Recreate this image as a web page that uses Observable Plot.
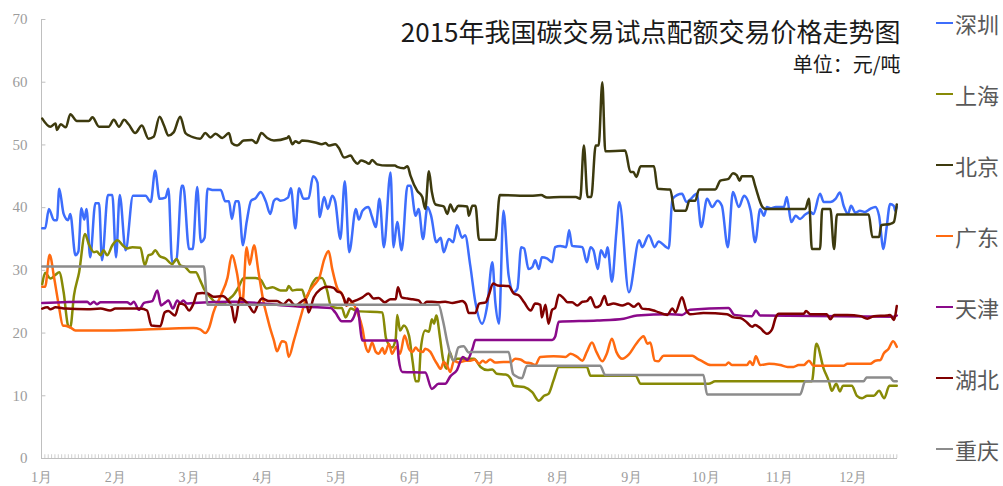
<!DOCTYPE html>
<html>
<head>
<meta charset="utf-8">
<script src="https://cdn.jsdelivr.net/npm/d3@7"></script>
<script src="https://cdn.jsdelivr.net/npm/@observablehq/plot@0.6"></script>
<style>
  html, body { margin: 0; padding: 0; background: #fff; }
  #wrap { position: relative; width: 1003px; height: 486px; overflow: hidden; }
  #legend { position: absolute; left: 0; top: 0; }
  .item { position: absolute; left: 936px; height: 30px; display: flex; align-items: center; white-space: nowrap; }
  .key { display: inline-block; width: 17px; height: 2.5px; }
  .lab { margin-left: 2px; font-family: "Noto Sans CJK SC", sans-serif; font-size: 22px; color: #595959; }
</style>
</head>
<body>
<div id="wrap"><div id="legend"></div></div>
<script>
// categories
const cities = ["深圳", "上海", "北京", "广东", "天津", "湖北", "重庆"];
const colors = ["#3d6dfc", "#878a06", "#3d3a0e", "#ff6a10", "#8a0a8a", "#800000", "#8c8c8c"];
const months = ["1月","2月","3月","4月","5月","6月","7月","8月","9月","10月","11月","12月"];
const yTicks = [0, 10, 20, 30, 40, 50, 60, 70];
const title = "2015年我国碳交易试点配额交易价格走势图";
const subtitle = "单位：元/吨";

// series: [position in months from 1月, price]
const shenzhen = [[0.01,36.7],[0.05,36.7],[0.10,39.8],[0.17,38.0],[0.21,38.0],[0.24,43.0],[0.30,39.0],[0.36,38.0],[0.39,39.0],[0.46,32.4],[0.50,33.0],[0.54,39.9],[0.58,38.1],[0.61,39.8],[0.66,32.1],[0.73,40.7],[0.78,40.7],[0.82,31.6],[0.90,42.0],[0.96,42.0],[1.01,32.1],[1.06,42.0],[1.14,33.2],[1.24,41.9],[1.41,41.9],[1.48,40.9],[1.54,45.9],[1.60,41.4],[1.68,41.6],[1.72,43.0],[1.77,31.3],[1.83,31.8],[1.90,43.5],[1.92,43.5],[2.00,33.4],[2.05,33.4],[2.11,43.3],[2.16,34.5],[2.21,35.2],[2.25,43.0],[2.33,42.8],[2.43,42.8],[2.49,41.0],[2.54,41.0],[2.58,38.2],[2.63,41.0],[2.67,41.0],[2.73,34.0],[2.78,37.7],[2.84,41.1],[2.90,41.5],[2.97,42.5],[3.04,41.0],[3.10,39.0],[3.15,41.1],[3.19,41.4],[3.24,41.1],[3.34,41.6],[3.38,43.1],[3.44,36.7],[3.49,43.1],[3.55,41.4],[3.62,41.5],[3.68,45.0],[3.74,44.0],[3.77,38.5],[3.83,41.7],[3.88,39.8],[3.94,41.9],[3.98,41.0],[4.05,35.0],[4.11,44.2],[4.17,32.9],[4.26,39.8],[4.30,38.1],[4.35,39.5],[4.43,40.1],[4.48,38.5],[4.53,36.9],[4.58,41.4],[4.64,33.7],[4.73,45.6],[4.77,33.7],[4.82,37.7],[4.88,33.2],[4.96,43.5],[5.00,43.5],[5.07,38.7],[5.11,39.8],[5.17,35.0],[5.23,40.1],[5.28,38.7],[5.35,34.5],[5.41,35.2],[5.45,32.9],[5.52,35.0],[5.58,34.5],[5.63,37.2],[5.70,35.2],[5.74,35.6],[5.81,30.8],[5.88,24.9],[5.97,21.5],[6.04,24.4],[6.11,31.3],[6.15,24.9],[6.20,21.5],[6.26,39.5],[6.33,29.2],[6.40,26.5],[6.45,27.1],[6.50,33.7],[6.54,33.5],[6.60,30.2],[6.65,30.5],[6.69,31.6],[6.74,30.2],[6.78,32.1],[6.85,31.9],[6.92,31.3],[6.96,33.7],[7.03,33.9],[7.11,33.7],[7.15,36.4],[7.19,33.9],[7.33,33.7],[7.39,31.3],[7.44,33.7],[7.48,33.2],[7.54,30.2],[7.58,33.2],[7.64,32.1],[7.67,33.7],[7.73,28.2],[7.79,36.1],[7.83,40.9],[7.96,26.5],[8.10,34.8],[8.14,33.7],[8.23,35.6],[8.31,33.7],[8.36,34.6],[8.50,33.5],[8.55,41.4],[8.68,42.2],[8.74,40.9],[8.79,41.3],[8.88,42.2],[8.94,36.9],[9.02,41.4],[9.09,40.1],[9.16,41.1],[9.22,40.3],[9.30,33.7],[9.37,42.5],[9.45,40.1],[9.52,41.9],[9.61,39.5],[9.67,34.5],[9.74,39.8],[9.79,38.7],[9.83,40.1],[9.88,39.9],[9.95,40.1],[10.06,40.1],[10.10,41.7],[10.16,37.7],[10.22,38.7],[10.28,38.2],[10.35,38.9],[10.42,39.3],[10.46,39.0],[10.55,42.2],[10.60,40.9],[10.69,40.9],[10.76,41.4],[10.82,42.4],[10.87,40.3],[10.93,39.0],[10.97,40.3],[11.03,39.2],[11.09,39.5],[11.16,39.3],[11.23,39.8],[11.30,40.1],[11.35,38.7],[11.41,33.4],[11.45,36.6],[11.50,40.6],[11.55,40.3],[11.57,39.5],[11.59,40.1]];

const shanghai = [[0.01,27.8],[0.05,29.6],[0.12,28.7],[0.19,29.3],[0.24,29.7],[0.30,26.5],[0.36,21.2],[0.39,20.9],[0.44,26.0],[0.51,29.7],[0.59,35.8],[0.64,34.2],[0.71,32.9],[0.75,33.0],[0.80,32.4],[0.84,33.2],[0.89,32.4],[0.96,34.0],[1.03,34.8],[1.10,34.0],[1.16,33.5],[1.23,33.7],[1.34,33.6],[1.40,30.8],[1.45,32.4],[1.50,32.6],[1.54,33.2],[1.60,32.3],[1.68,31.9],[1.77,31.0],[1.83,31.8],[1.88,30.8],[1.95,30.5],[2.02,29.7],[2.09,29.7],[2.15,28.4],[2.20,27.1],[2.29,25.7],[2.36,24.9],[2.47,24.7],[2.54,25.4],[2.61,26.2],[2.67,27.3],[2.74,28.8],[2.90,28.8],[2.97,28.5],[3.05,27.1],[3.13,27.3],[3.24,26.8],[3.32,26.8],[3.35,27.5],[3.40,26.8],[3.46,26.9],[3.53,26.9],[3.58,25.5],[3.67,27.9],[3.73,28.8],[3.80,28.8],[3.87,26.8],[3.92,24.4],[4.01,24.0],[4.07,24.0],[4.12,22.5],[4.19,23.9],[4.28,23.5],[4.62,23.3],[4.67,19.1],[4.75,17.7],[4.80,19.1],[4.82,22.9],[4.86,20.4],[4.91,21.2],[4.98,19.6],[5.03,15.4],[5.07,12.3],[5.11,12.3],[5.14,17.5],[5.20,20.4],[5.25,20.2],[5.29,22.2],[5.32,21.5],[5.35,22.8],[5.40,19.3],[5.44,15.9],[5.49,14.3],[5.53,17.0],[5.58,15.6],[5.63,15.9],[5.86,15.9],[5.95,14.6],[6.04,14.1],[6.11,14.2],[6.17,13.5],[6.29,13.4],[6.36,12.7],[6.40,11.6],[6.54,11.4],[6.65,10.6],[6.74,9.2],[6.81,10.0],[6.87,10.3],[6.94,12.5],[7.01,14.6],[7.39,14.6],[7.44,13.2],[8.05,13.2],[8.12,11.9],[9.04,11.9],[9.13,12.3],[10.44,12.3],[10.50,18.3],[10.60,14.3],[10.67,12.3],[10.71,10.8],[10.77,11.9],[10.82,10.7],[10.86,11.6],[10.98,11.6],[11.05,10.0],[11.12,9.6],[11.19,10.0],[11.28,10.0],[11.35,10.8],[11.42,9.6],[11.49,11.6],[11.59,11.6]];

const beijing = [[0.01,54.2],[0.12,52.9],[0.19,53.4],[0.21,52.4],[0.26,53.3],[0.33,52.8],[0.39,54.9],[0.48,53.8],[0.64,53.8],[0.69,54.4],[0.78,52.9],[0.91,52.9],[0.98,54.0],[1.05,52.9],[1.12,54.0],[1.18,53.3],[1.27,51.9],[1.36,53.1],[1.45,51.0],[1.52,51.3],[1.60,54.5],[1.66,53.1],[1.72,51.5],[1.79,52.0],[1.88,54.5],[1.95,51.9],[2.00,51.5],[2.06,51.2],[2.15,51.0],[2.22,51.9],[2.29,51.2],[2.36,51.8],[2.45,51.1],[2.54,51.9],[2.58,50.3],[2.65,49.9],[2.74,50.7],[2.85,50.8],[2.91,50.3],[2.98,51.9],[3.06,51.1],[3.15,50.7],[3.33,51.1],[3.35,51.4],[3.40,50.1],[3.44,50.6],[3.49,50.3],[3.53,50.7],[3.71,50.4],[3.80,50.1],[3.85,50.3],[3.89,49.9],[3.98,50.1],[4.03,49.5],[4.10,48.0],[4.19,48.3],[4.23,47.6],[4.28,47.0],[4.33,47.5],[4.39,47.3],[4.44,47.0],[4.48,47.6],[4.55,46.9],[4.68,46.7],[4.79,46.7],[4.82,46.5],[4.91,46.3],[4.96,46.6],[5.00,45.1],[5.09,42.7],[5.16,41.7],[5.20,39.8],[5.25,45.8],[5.29,42.5],[5.34,40.5],[5.45,40.2],[5.50,39.0],[5.54,40.5],[5.59,39.4],[5.65,40.3],[5.77,40.2],[5.79,38.7],[5.84,40.3],[5.88,40.3],[5.93,34.9],[6.15,34.9],[6.21,42.0],[6.63,41.9],[6.77,42.0],[6.85,41.6],[7.03,41.7],[7.24,41.7],[7.30,41.4],[7.35,49.9],[7.40,41.7],[7.45,41.7],[7.51,49.9],[7.55,49.9],[7.60,60.0],[7.64,49.0],[7.91,49.1],[7.98,45.7],[8.02,45.7],[8.06,44.9],[8.12,46.6],[8.30,46.6],[8.35,43.0],[8.52,42.9],[8.58,39.5],[8.73,39.5],[8.78,41.1],[8.86,41.1],[8.91,42.9],[9.13,42.9],[9.20,44.3],[9.31,44.6],[9.37,45.5],[9.42,45.2],[9.46,44.3],[9.49,45.0],[9.63,45.0],[9.67,43.5],[9.77,40.1],[9.81,39.8],[10.35,39.8],[10.40,41.4],[10.44,33.4],[10.55,33.4],[10.58,39.8],[10.69,39.8],[10.74,33.4],[10.78,38.9],[11.21,38.9],[11.26,35.3],[11.35,35.3],[11.38,37.2],[11.50,37.4],[11.55,37.7],[11.59,40.5]];

const guangdong = [[0.01,27.4],[0.05,27.4],[0.11,32.5],[0.17,28.9],[0.23,24.7],[0.29,21.2],[0.35,21.1],[0.39,20.9],[0.46,20.4],[0.80,20.4],[1.25,20.5],[1.70,20.7],[2.06,20.8],[2.15,20.6],[2.22,20.0],[2.27,20.8],[2.33,23.3],[2.43,26.0],[2.52,28.8],[2.58,32.4],[2.65,29.5],[2.72,24.5],[2.78,33.7],[2.82,30.9],[2.88,34.0],[2.94,29.8],[3.01,24.9],[3.06,22.5],[3.10,20.7],[3.15,18.8],[3.19,17.1],[3.26,18.7],[3.31,18.5],[3.35,16.2],[3.42,18.8],[3.51,22.5],[3.60,26.0],[3.69,27.6],[3.77,29.0],[3.83,31.7],[3.89,33.1],[3.94,30.2],[4.01,27.1],[4.07,26.3],[4.14,24.4],[4.21,24.8],[4.28,23.3],[4.35,20.7],[4.39,18.0],[4.43,17.0],[4.48,18.5],[4.53,17.0],[4.57,16.7],[4.62,17.6],[4.65,16.7],[4.71,18.3],[4.75,16.7],[4.81,17.8],[4.86,16.7],[4.92,19.6],[4.98,17.5],[5.03,17.0],[5.07,17.7],[5.11,17.2],[5.17,17.0],[5.20,17.5],[5.27,17.0],[5.32,15.9],[5.36,15.1],[5.41,14.3],[5.45,15.4],[5.50,14.7],[5.54,13.8],[5.59,15.6],[5.65,15.3],[5.75,15.6],[5.81,15.6],[5.87,15.8],[5.93,15.1],[5.98,15.6],[6.02,15.3],[6.08,15.8],[6.15,15.3],[6.26,15.4],[6.36,15.4],[6.42,15.9],[6.49,15.8],[6.56,15.3],[6.63,15.2],[6.69,14.9],[6.76,16.2],[6.94,16.3],[7.10,16.2],[7.17,16.7],[7.26,16.2],[7.33,15.6],[7.39,17.0],[7.46,18.5],[7.52,17.0],[7.60,15.5],[7.66,16.7],[7.73,19.1],[7.79,17.0],[7.87,15.9],[7.96,16.6],[8.06,18.3],[8.16,19.5],[8.21,18.3],[8.25,18.5],[8.31,15.6],[8.36,15.5],[8.43,16.4],[8.82,16.4],[8.89,15.9],[8.94,15.6],[9.07,14.9],[9.27,14.9],[9.31,15.3],[9.36,14.9],[9.56,14.9],[9.60,15.5],[9.64,14.9],[9.68,16.3],[9.74,14.9],[9.86,15.1],[10.01,14.9],[10.11,14.6],[10.19,14.6],[10.26,14.9],[10.33,14.9],[10.40,15.6],[10.46,14.8],[10.87,14.8],[10.92,15.1],[11.23,15.1],[11.30,15.6],[11.37,15.7],[11.41,16.7],[11.48,17.5],[11.54,18.7],[11.59,17.8]];

const tianjin = [[0.01,24.8],[0.62,25.0],[0.66,24.6],[0.71,25.0],[0.75,24.6],[0.80,24.9],[1.16,24.9],[1.21,24.6],[1.25,25.0],[1.32,23.7],[1.39,24.8],[1.50,25.1],[1.57,26.8],[1.62,24.4],[1.68,24.9],[1.72,25.2],[1.78,23.9],[1.84,25.2],[1.88,24.8],[1.92,25.2],[1.97,24.7],[2.06,24.8],[2.61,25.0],[3.51,24.2],[3.74,24.1],[3.92,24.0],[3.98,23.3],[4.07,21.9],[4.19,21.9],[4.23,22.5],[4.28,23.9],[4.35,18.8],[4.82,18.8],[4.84,15.9],[4.89,13.8],[5.20,13.7],[5.29,11.1],[5.38,11.9],[5.47,11.9],[5.54,13.1],[5.63,14.1],[5.71,16.2],[5.77,15.7],[5.84,17.5],[5.88,18.9],[6.92,18.9],[6.96,19.4],[7.01,21.8],[7.53,22.0],[7.89,22.3],[8.07,22.8],[8.52,23.0],[8.68,22.9],[8.79,23.7],[9.31,24.0],[9.39,22.9],[9.63,22.7],[9.68,23.6],[9.74,22.8],[11.55,22.6],[11.59,22.8]];

const hubei = [[0.01,23.9],[0.08,24.1],[0.12,23.8],[0.19,24.1],[0.33,23.9],[0.62,23.8],[0.80,23.9],[0.93,23.6],[1.00,23.9],[1.34,23.9],[1.43,23.6],[1.49,21.2],[1.61,21.1],[1.67,23.3],[1.72,23.5],[1.81,22.8],[1.87,24.7],[1.94,24.5],[2.00,23.6],[2.06,24.7],[2.11,26.3],[2.18,26.4],[2.25,26.3],[2.33,25.8],[2.45,25.9],[2.52,25.3],[2.58,24.1],[2.62,21.7],[2.69,25.6],[2.74,25.3],[2.81,24.4],[2.88,23.3],[2.94,24.8],[2.99,25.5],[3.08,25.1],[3.19,25.1],[3.28,24.6],[3.35,25.3],[3.44,24.4],[3.51,24.9],[3.58,25.4],[3.62,23.3],[3.69,25.7],[3.78,27.0],[3.87,27.4],[3.96,27.2],[4.01,26.6],[4.05,26.5],[4.10,25.5],[4.13,24.4],[4.16,25.5],[4.21,25.0],[4.28,25.3],[4.35,25.7],[4.43,26.3],[4.50,25.5],[4.57,25.6],[4.65,24.9],[4.73,25.4],[4.80,25.4],[4.83,27.3],[4.88,25.7],[4.96,25.5],[5.03,25.4],[5.11,25.2],[5.17,24.5],[5.22,25.0],[5.29,25.0],[5.38,24.9],[5.47,25.0],[5.57,24.8],[5.65,25.0],[5.70,25.1],[5.75,24.6],[5.79,23.2],[5.88,23.2],[5.93,24.7],[6.02,24.9],[6.06,26.0],[6.12,27.9],[6.18,27.6],[6.33,27.5],[6.40,26.3],[6.47,26.0],[6.54,24.9],[6.63,23.6],[6.69,24.7],[6.76,24.5],[6.78,22.5],[6.83,24.5],[6.87,21.5],[6.92,23.7],[6.96,24.0],[7.01,26.1],[7.08,25.5],[7.13,24.9],[7.19,24.9],[7.26,24.4],[7.33,25.0],[7.39,25.1],[7.44,25.7],[7.51,24.1],[7.57,24.4],[7.63,25.9],[7.67,24.5],[7.75,24.7],[7.87,24.4],[7.95,24.7],[8.03,24.2],[8.09,24.7],[8.14,23.9],[8.23,23.8],[8.32,23.5],[8.48,22.9],[8.55,23.9],[8.59,23.3],[8.68,25.7],[8.74,23.6],[8.79,23.0],[8.97,23.2],[9.29,23.0],[9.38,22.5],[9.47,22.4],[9.56,21.7],[9.63,21.0],[9.67,21.3],[9.74,20.8],[9.83,19.9],[9.90,20.6],[9.95,22.5],[9.99,23.1],[10.33,23.1],[10.36,23.5],[10.42,23.0],[10.64,23.0],[10.69,22.2],[10.74,22.9],[10.92,22.9],[11.10,22.7],[11.19,22.3],[11.28,22.7],[11.46,22.8],[11.50,22.9],[11.55,22.1],[11.59,24.3]];

const chongqing = [[0.01,30.6],[2.20,30.6],[2.25,24.5],[5.38,24.5],[5.44,22.0],[5.50,18.5],[5.53,17.0],[5.59,15.6],[5.65,17.7],[5.72,17.9],[5.79,16.9],[5.81,17.0],[6.33,17.0],[6.39,13.5],[6.42,13.2],[6.51,12.8],[6.58,14.8],[7.57,14.8],[7.64,13.3],[8.97,13.3],[9.02,10.2],[10.28,10.2],[10.35,12.3],[11.14,12.3],[11.18,12.9],[11.50,12.9],[11.55,12.3],[11.59,12.3]];

const seriesList = [shenzhen, shanghai, beijing, guangdong, tianjin, hubei, chongqing];

// long table built from the arrays
const rows = [];
seriesList.forEach((s, i) => s.forEach(([m, v]) => rows.push({city: cities[i], m, v})));

// small trading-day tick marks along the bottom axis
const dayTicks = d3.range(0, 11.6, 1 / 22);

const axisFont = "'Liberation Serif', 'DejaVu Serif', serif";
const gray = "#9c9c9c";

const chart = Plot.plot({
  width: 1003,
  height: 486,
  marginLeft: 41,
  marginRight: 106,
  marginTop: 19,
  marginBottom: 28,
  x: {domain: [0, 11.6], label: null},
  y: {domain: [0, 70], label: null},
  color: {domain: cities, range: colors},
  style: {background: "#fff", fontFamily: "'Noto Sans CJK SC', sans-serif"},
  marks: [
    Plot.ruleX(dayTicks, {x: d => d, y1: 0, y2: 0.6, stroke: "#c4c4c4", strokeWidth: 0.8}),
    Plot.ruleY([0], {stroke: "#bfbfbf", strokeWidth: 1}),
    Plot.ruleX([0], {stroke: "#bfbfbf", strokeWidth: 1}),
    Plot.ruleY(yTicks, {y: d => d, x1: 0, x2: 0.06, stroke: "#bfbfbf", strokeWidth: 1}),
    Plot.axisY({ticks: yTicks, tickSize: 0, tickPadding: 14, fontSize: 15, fontFamily: axisFont, color: gray, label: null}),
    Plot.axisX({ticks: d3.range(months.length), tickFormat: i => months[i], tickSize: 0, tickPadding: 14, fontSize: 14, fontFamily: axisFont, color: gray, label: null}),
    Plot.line(rows, {x: "m", y: "v", z: "city", stroke: "city", strokeWidth: 2.5, curve: "monotone-x", strokeLinejoin: "round"}),
    Plot.text([title], {text: d => d, frameAnchor: "top-right", textAnchor: "end", lineAnchor: "middle", dx: 3, dy: 14, fontSize: 26, fill: "#1a1a1a"}),
    Plot.text([subtitle], {text: d => d, frameAnchor: "top-right", textAnchor: "end", lineAnchor: "middle", dx: 3, dy: 46, fontSize: 20, fill: "#1a1a1a"})
  ]
});

document.getElementById("wrap").prepend(chart);

// legend at the right
const legendY = [23, 94, 165, 236, 307, 378, 449];
const legend = document.getElementById("legend");
cities.forEach((c, i) => {
  const it = document.createElement("div");
  it.className = "item";
  it.style.top = (legendY[i] - 15) + "px";
  it.innerHTML = `<span class="key" style="background:${colors[i]}"></span><span class="lab">${c}</span>`;
  legend.appendChild(it);
});
</script>
</body>
</html>
